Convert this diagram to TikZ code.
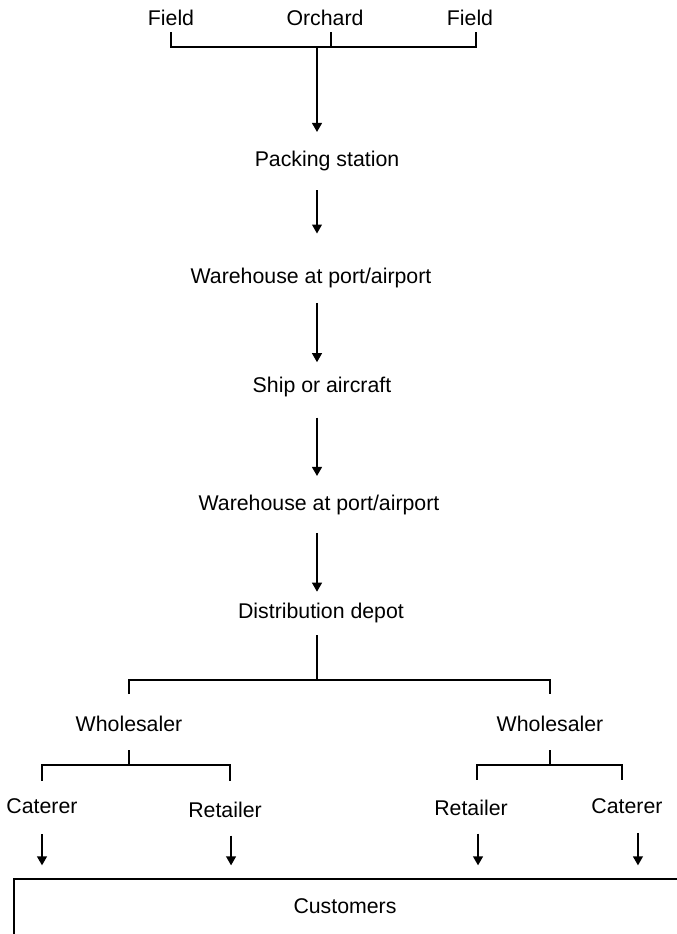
\documentclass[tikz,border=0pt]{standalone}
\usepackage{fontspec}
\setmainfont{Liberation Sans}
\usetikzlibrary{arrows.meta}

\tikzset{
  lbl/.style={anchor=base, inner sep=0pt, text height=11pt, text depth=3pt, font=\fontsize{15.15}{18}\selectfont},
  flow/.style={line width=1.1pt, -{Triangle[width=7pt,length=6.4pt]}},
  bar/.style={line width=1.5pt},
}

\begin{document}
\begin{tikzpicture}[x=0.025cm, y=-0.025cm]
  \useasboundingbox (0,0) rectangle (677,934);
  % sources
  \node[lbl] (fieldL) at (171,25) {Field};
  \node[lbl] (orchard) at (325,25) {Orchard};
  \node[lbl] (fieldR) at (470,25) {Field};
  % chain
  \node[lbl] (packing) at (327,166) {Packing station};
  \node[lbl] (whA) at (311,283) {Warehouse at port/airport};
  \node[lbl] (ship) at (322,392) {Ship or aircraft};
  \node[lbl] (whB) at (319,510) {Warehouse at port/airport};
  \node[lbl] (depot) at (321,618) {Distribution depot};
  % trade
  \node[lbl] (whsL) at (129,731) {Wholesaler};
  \node[lbl] (whsR) at (550,731) {Wholesaler};
  \node[lbl] (catL) at (42,813) {Caterer};
  \node[lbl] (retL) at (225,817) {Retailer};
  \node[lbl] (retR) at (471,815) {Retailer};
  \node[lbl] (catR) at (627,813) {Caterer};
  \node[draw, bar, anchor=north west, minimum width=500pt, minimum height=60pt] (custbox) at (13,878) {};
  \node[lbl] (cust) at (345,913) {Customers};

  \coordinate (spine) at (317,0);
  \coordinate (jA) at (317,47);
  \coordinate (jB) at (317,680);
  \coordinate (jL) at (128,765);
  \coordinate (jR) at (550,765);
  \coordinate (oT) at ([xshift=4.3pt]orchard.south);
  \coordinate (fR) at ([xshift=4.3pt]fieldR.south);
  \coordinate (rL) at ([xshift=3.6pt]retL.north);
  \coordinate (rR) at ([xshift=4.3pt]retR.north);
  \coordinate (cR) at ([xshift=-3.6pt]catR.north);
  \coordinate (aL) at ([xshift=4.3pt]retL.south);
  \coordinate (aR) at ([xshift=5pt]retR.south);
  \coordinate (aC) at ([xshift=7.8pt]catR.south);

  % top bracket
  \draw[bar, shorten <=2pt, shorten >=2pt] (fieldL.south) -- (fieldL.south |- jA) -- (fR |- jA) -- (fR);
  \draw[bar, shorten <=2pt] (oT) -- (oT |- jA);
  % chain arrows
  \draw[flow, shorten >=13pt] (jA) -- (packing.north -| spine);
  \draw[flow, shorten <=14pt, shorten >=24pt] (packing.south -| spine) -- (whA.north -| spine);
  \draw[flow, shorten <=11pt, shorten >=10pt] (whA.south -| spine) -- (ship.north -| spine);
  \draw[flow, shorten <=15pt, shorten >=13pt] (ship.south -| spine) -- (whB.north -| spine);
  \draw[flow, shorten <=13pt, shorten >=7.5pt] (whB.south -| spine) -- (depot.north -| spine);
  % split to wholesalers
  \draw[bar, shorten <=9pt] (depot.south -| spine) -- (jB);
  \draw[bar, shorten <=15pt, shorten >=15pt] (whsL.north) -- (whsL.north |- jB) -- (whsR.north |- jB) -- (whsR.north);
  % split to caterers and retailers
  \draw[bar, shorten <=10.5pt] (whsL.south) -- (whsL.south |- jL);
  \draw[bar, shorten <=11.7pt, shorten >=14.6pt] (catL.north) -- (catL.north |- jL) -- (rL |- jL) -- (rL);
  \draw[bar, shorten <=10.5pt] (whsR.south) -- (whsR.south |- jR);
  \draw[bar, shorten <=13.9pt, shorten >=12.4pt] (rR) -- (rR |- jR) -- (cR |- jR) -- (cR);
  % to customers
  \draw[flow, shorten <=12pt, shorten >=9pt] (catL.south) -- (catL.south |- custbox.north);
  \draw[flow, shorten <=10pt, shorten >=9pt] (aL) -- (aL |- custbox.north);
  \draw[flow, shorten <=10pt, shorten >=9pt] (aR) -- (aR |- custbox.north);
  \draw[flow, shorten <=11pt, shorten >=9pt] (aC) -- (aC |- custbox.north);
\end{tikzpicture}
\end{document}
